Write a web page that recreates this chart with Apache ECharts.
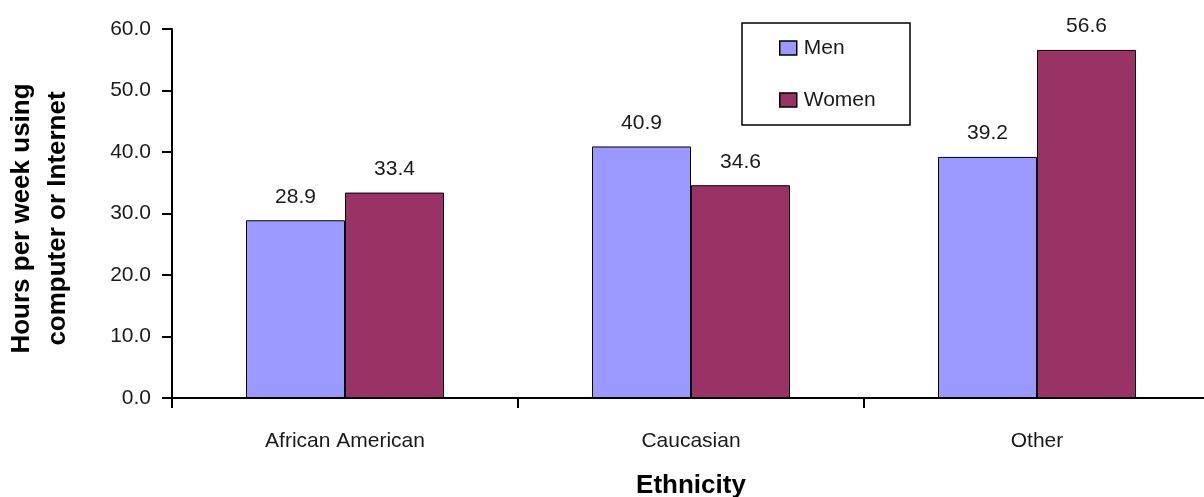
<!DOCTYPE html>
<html>
<head>
<meta charset="utf-8">
<script src="https://cdn.jsdelivr.net/npm/echarts@6/dist/echarts.min.js"></script>
<style>
html,body{margin:0;padding:0;background:#fff;}
#c{width:1204px;height:497px;}
</style>
</head>
<body>
<div id="c"></div>
<script>
const categories = ["African American", "Caucasian", "Other"];
const menValues = [28.9, 40.9, 39.2];
const womenValues = [33.4, 34.6, 56.6];
const seriesNames = ["Men", "Women"];

const regular = '"Liberation Sans Narrow", "Arial Narrow", "Liberation Sans", Arial, sans-serif';
const bold = '"Liberation Sans", Arial, sans-serif';

const chart = echarts.init(document.getElementById('c'), null, {renderer: 'canvas'});
const labelCfg = {
  show: true, position: 'top', distance: 13,
  fontFamily: regular, fontSize: 21, color: '#1a1a1a',
  formatter: p => p.value.toFixed(1)
};
chart.setOption({
  animation: false,
  backgroundColor: '#fff',
  grid: {left: 172, top: 29, width: 1038, height: 369, containLabel: false, outerBoundsMode: 'none'},
  graphic: [{
    type: 'rect', shape: {x: 742, y: 23, width: 168, height: 102},
    style: {fill: '#fff', stroke: '#000', lineWidth: 1.5}, z: 5
  }],
  legend: {
    orient: 'vertical', left: 774, top: 31, z: 10,
    itemWidth: 17, itemHeight: 14, itemGap: 28,
    icon: 'rect',
    itemStyle: {borderColor: '#000', borderWidth: 1.5},
    textStyle: {fontFamily: regular, fontSize: 21, color: '#1a1a1a', lineHeight: 24, padding: [0,0,0,2]},
    data: seriesNames
  },
  xAxis: {
    type: 'category', data: categories,
    axisLine: {lineStyle: {color: '#000', width: 2}},
    axisTick: {show: true, length: 10, lineStyle: {color: '#000', width: 2}},
    axisLabel: {fontFamily: regular, fontSize: 21, color: '#1a1a1a', margin: 33},
    name: 'Ethnicity', nameLocation: 'middle', nameGap: 75, nameMoveOverlap: false,
    nameTextStyle: {fontFamily: bold, fontSize: 26, fontWeight: 'bold', color: '#000'}
  },
  yAxis: {
    type: 'value', min: 0, max: 60, interval: 10,
    axisLine: {show: true, lineStyle: {color: '#000', width: 2}},
    axisTick: {show: true, length: 10, lineStyle: {color: '#000', width: 2}},
    splitLine: {show: false},
    axisLabel: {fontFamily: regular, fontSize: 21, color: '#1a1a1a', margin: 21, formatter: v => v.toFixed(1)},
    name: 'Hours per week using\ncomputer or Internet', nameLocation: 'middle', nameGap: 96, nameMoveOverlap: false,
    nameTextStyle: {fontFamily: bold, fontSize: 26, fontWeight: 'bold', color: '#000', lineHeight: 36, padding: [0,10,0,0]}
  },
  series: [
    {name: seriesNames[0], type: 'bar', data: menValues, barWidth: 99, barGap: '0%',
     itemStyle: {color: '#9999FF', borderColor: '#000', borderWidth: 1}, label: labelCfg},
    {name: seriesNames[1], type: 'bar', data: womenValues, barWidth: 99,
     itemStyle: {color: '#993366', borderColor: '#000', borderWidth: 1}, label: labelCfg}
  ]
});
</script>
</body>
</html>
